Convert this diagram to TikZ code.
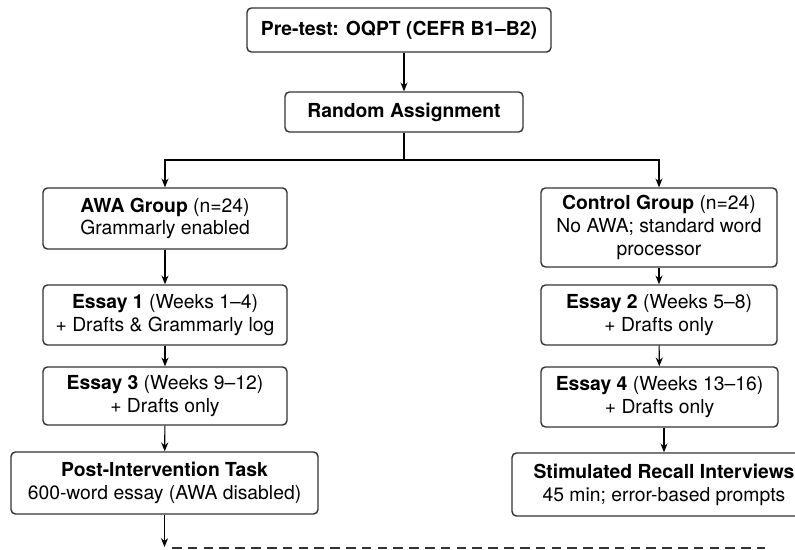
\documentclass[tikz,border=0pt]{standalone}
\usepackage{fontspec}
\setmainfont{TeX Gyre Heros}
\usetikzlibrary{arrows.meta}
\definecolor{LineClr}{rgb}{0.2,0.2,0.2}

\begin{document}
\begin{tikzpicture}[x=0.02cm,y=-0.02cm,
  font=\fontsize{11}{13}\selectfont,
  box/.style={draw=LineClr,line width=0.8pt,rounded corners=2.5pt,align=center,
    inner sep=2pt,minimum width=4.88cm,minimum height=1.2cm},
  flow/.style={-{Stealth[length=5pt,width=4pt]},line width=0.6pt,color=black}]
\useasboundingbox (0,0) rectangle (795,550);

% top
\node[box,minimum width=6.08cm,minimum height=0.88cm] (pretest) at (399,30)
  {\textbf{Pre-test: OQPT (CEFR B1--B2)}};
\node[box,minimum width=4.76cm,minimum height=0.8cm] (assign) at (404,112)
  {\textbf{Random Assignment}};

% AWA branch
\node[box,minimum height=1.22cm] (awa) at (165,218.5)
  {\textbf{AWA Group} (n=24)\\Grammarly enabled};
\node[box] (essayA) at (165,315)
  {\textbf{Essay 1} (Weeks 1--4)\\+ Drafts \& Grammarly log};
\node[box,minimum height=1.16cm] (essayC) at (165,396)
  {\textbf{Essay 3} (Weeks 9--12)\\+ Drafts only};
\node[box,minimum width=6.14cm,minimum height=1.24cm] (post) at (164.5,483)
  {\textbf{Post-Intervention Task}\\600-word essay (AWA disabled)};

% control branch
\node[box,minimum width=4.72cm,minimum height=1.58cm] (ctrl) at (659,227.5)
  {\textbf{Control Group} (n=24)\\No AWA; standard word\\processor};
\node[box,minimum width=4.72cm] (essayB) at (659,315)
  {\textbf{Essay 2} (Weeks 5--8)\\+ Drafts only};
\node[box,minimum width=4.74cm] (essayD) at (659.5,397)
  {\textbf{Essay 4} (Weeks 13--16)\\+ Drafts only};
\node[box,minimum width=6.08cm,minimum height=1.26cm] (recall) at (664,484.5)
  {\textbf{Stimulated Recall Interviews}\\45 min; error-based prompts};

\coordinate (split) at (404,160);
\coordinate (postEnd) at (164.5,547);
\coordinate (dashL) at (172,548);
\coordinate (dashR) at (765,548);

\draw[flow] (pretest.south -| assign) -- (assign);
\draw[line width=0.6pt] (assign) -- (split);
\draw[flow] (split) -| (awa);
\draw[flow] (split) -| (ctrl);

\draw[flow] (awa) -- (essayA);
\draw[flow] (essayA) -- (essayC);
\draw[flow] (essayC) -- (post);
\draw[flow] (post) -- (postEnd);

\draw[flow] (ctrl) -- (essayB);
\draw[flow] (essayB) -- (essayD);
\draw[flow] (essayD.south -| recall) -- (recall);

\draw[line width=0.6pt,color=LineClr,dash pattern=on 5.5pt off 3.5pt] (dashL) -- (dashR);

\end{tikzpicture}
\end{document}
